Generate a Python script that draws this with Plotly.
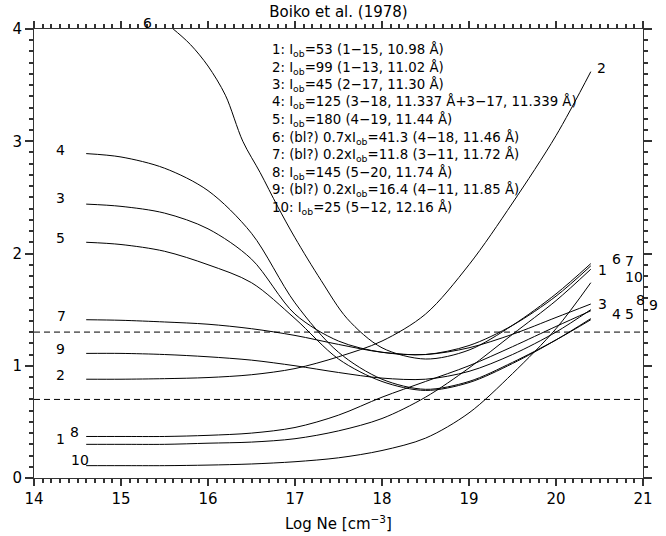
import plotly.graph_objects as go

# ---------------- data ----------------
x_grid = [14.6, 15.0, 15.5, 16.0, 16.5, 17.0, 17.5, 18.0, 18.5, 19.0, 19.5, 20.0, 20.4]

c1 = [0.30, 0.30, 0.30, 0.31, 0.32, 0.35, 0.42, 0.53, 0.72, 0.98, 1.28, 1.58, 1.86]
c2 = [0.88, 0.88, 0.885, 0.895, 0.92, 0.975, 1.08, 1.22, 1.46, 1.90, 2.45, 3.05, 3.62]
c3 = [2.44, 2.42, 2.36, 2.22, 1.95, 1.46, 1.22, 1.12, 1.10, 1.16, 1.28, 1.43, 1.55]
c4 = [2.89, 2.86, 2.76, 2.56, 2.18, 1.56, 1.12, 0.88, 0.79, 0.86, 1.03, 1.23, 1.41]
c5 = [2.10, 2.08, 2.02, 1.90, 1.74, 1.42, 1.06, 0.86, 0.78, 0.85, 1.02, 1.23, 1.42]
c7 = [1.41, 1.405, 1.39, 1.37, 1.33, 1.27, 1.19, 1.12, 1.10, 1.18, 1.36, 1.62, 1.89]
c8 = [0.37, 0.37, 0.37, 0.38, 0.40, 0.45, 0.56, 0.72, 0.86, 1.00, 1.17, 1.35, 1.49]
c9 = [1.11, 1.11, 1.10, 1.08, 1.05, 1.00, 0.94, 0.89, 0.88, 0.95, 1.10, 1.30, 1.50]
c10 = [0.11, 0.11, 0.11, 0.115, 0.125, 0.145, 0.18, 0.245, 0.355, 0.58, 0.93, 1.33, 1.74]

x6 = [15.4, 15.6, 15.8, 16.0, 16.2, 16.4, 16.6, 16.8, 17.0, 17.3, 17.6, 18.0, 18.5, 19.0, 19.5, 20.0, 20.4]
c6 = [4.12, 4.0, 3.86, 3.67, 3.41, 3.00, 2.72, 2.42, 2.14, 1.76, 1.42, 1.16, 1.06, 1.14, 1.36, 1.64, 1.91]

dash_levels = [0.7, 1.3]

legend_lines = [
    "1: I<sub>ob</sub>=53 (1\u221215, 10.98 \u00c5)",
    "2: I<sub>ob</sub>=99 (1\u221213, 11.02 \u00c5)",
    "3: I<sub>ob</sub>=45 (2\u221217, 11.30 \u00c5)",
    "4: I<sub>ob</sub>=125 (3\u221218, 11.337 \u00c5+3\u221217, 11.339 \u00c5)",
    "5: I<sub>ob</sub>=180 (4\u221219, 11.44 \u00c5)",
    "6: (bl?) 0.7xI<sub>ob</sub>=41.3 (4\u221218, 11.46 \u00c5)",
    "7: (bl?) 0.2xI<sub>ob</sub>=11.8 (3\u221211, 11.72 \u00c5)",
    "8: I<sub>ob</sub>=145 (5\u221220, 11.74 \u00c5)",
    "9: (bl?) 0.2xI<sub>ob</sub>=16.4 (4\u221211, 11.85 \u00c5)",
    "10: I<sub>ob</sub>=25 (5\u221212, 12.16 \u00c5)",
]
x_title = "Log Ne [cm<sup>\u22123</sup>]"

series = [
    (x_grid, c1), (x_grid, c2), (x_grid, c3), (x_grid, c4), (x_grid, c5),
    (x6, c6), (x_grid, c7), (x_grid, c8), (x_grid, c9), (x_grid, c10),
]

# ---------------- layout ----------------
XR = [14, 21]
YR = [0, 4]
FONT = "DejaVu Sans"
INK = "#000000"
TICK = "#333333"


def to_paper(x, y):
    return (x - XR[0]) / (XR[1] - XR[0]), (y - YR[0]) / (YR[1] - YR[0])

# curve-number label positions (data units)
curve_labels = [
    ("4", 14.31, 2.92), ("3", 14.31, 2.49), ("5", 14.31, 2.14),
    ("7", 14.32, 1.44), ("9", 14.31, 1.15), ("2", 14.31, 0.92),
    ("1", 14.31, 0.345), ("8", 14.46, 0.41), ("10", 14.53, 0.16),
    ("6", 15.31, 4.05), ("2", 20.525, 3.65),
    ("1", 20.54, 1.853), ("6", 20.69, 1.948), ("7", 20.84, 1.933),
    ("10", 20.90, 1.793), ("3", 20.54, 1.547), ("4", 20.69, 1.461),
    ("5", 20.84, 1.461), ("8", 20.97, 1.586), ("9", 21.12, 1.541),
]

fig = go.Figure()
for xs, ys in series:
    fig.add_trace(go.Scatter(x=xs, y=ys, mode="lines",
                             line=dict(color=INK, width=1, shape="spline", smoothing=0.9),
                             showlegend=False, hoverinfo="skip"))
for lv in dash_levels:
    fig.add_trace(go.Scatter(x=XR, y=[lv, lv], mode="lines",
                             line=dict(color=INK, width=1, dash="6px,4px"),
                             showlegend=False, hoverinfo="skip"))

annotations = []
for txt, lx, ly in curve_labels:
    px, py = to_paper(lx, ly)
    annotations.append(dict(text=txt, x=px, y=py, xref="paper", yref="paper",
                            showarrow=False, xanchor="center", yanchor="middle",
                            font=dict(family=FONT, size=14, color=INK)))

plot_top_px, plot_h_px = 29, 449
plot_left_px, plot_w_px = 34, 609
for i, line in enumerate(legend_lines):
    ypix = 50 + i * 17.5
    annotations.append(dict(text=line, x=(270 - plot_left_px) / plot_w_px,
                            y=1 - (ypix - plot_top_px) / plot_h_px,
                            xref="paper", yref="paper", showarrow=False,
                            xanchor="left", yanchor="middle",
                            font=dict(family=FONT, size=13.3, color=INK)))
# x-axis title as an annotation, below the tick labels
annotations.append(dict(text=x_title, x=0.5, y=-(523 - 478) / plot_h_px,
                        xref="paper", yref="paper", showarrow=False,
                        xanchor="center", yanchor="middle",
                        font=dict(family=FONT, size=15, color=INK)))

fig.update_layout(
    width=666, height=536,
    margin=dict(l=34, r=23, t=29, b=58),
    plot_bgcolor="white",
    title=dict(text="Boiko et al. (1978)", x=0.5, xref="paper", y=1 - 12 / 536,
               yref="container", xanchor="center", yanchor="middle",
               font=dict(family=FONT, size=15, color=INK)),
    xaxis=dict(range=XR, dtick=1, ticks="outside", ticklen=7, tickwidth=1.5, tickcolor=TICK,
               showline=True, linecolor="#333333", mirror="allticks",
               showgrid=False, zeroline=False,
               minor=dict(dtick=0.1, ticks="outside", ticklen=4, tickwidth=1.5, tickcolor=TICK),
               tickfont=dict(family=FONT, size=15, color=INK)),
    yaxis=dict(range=YR, dtick=1, ticks="outside", ticklen=8, tickwidth=1.5, tickcolor=TICK,
               showline=True, linecolor="#333333", mirror="allticks",
               showgrid=False, zeroline=False,
               minor=dict(dtick=0.1, ticks="outside", ticklen=4, tickwidth=1.5, tickcolor=TICK),
               tickfont=dict(family=FONT, size=15, color=INK)),
    annotations=annotations,
)

fig.write_html("out.html")
